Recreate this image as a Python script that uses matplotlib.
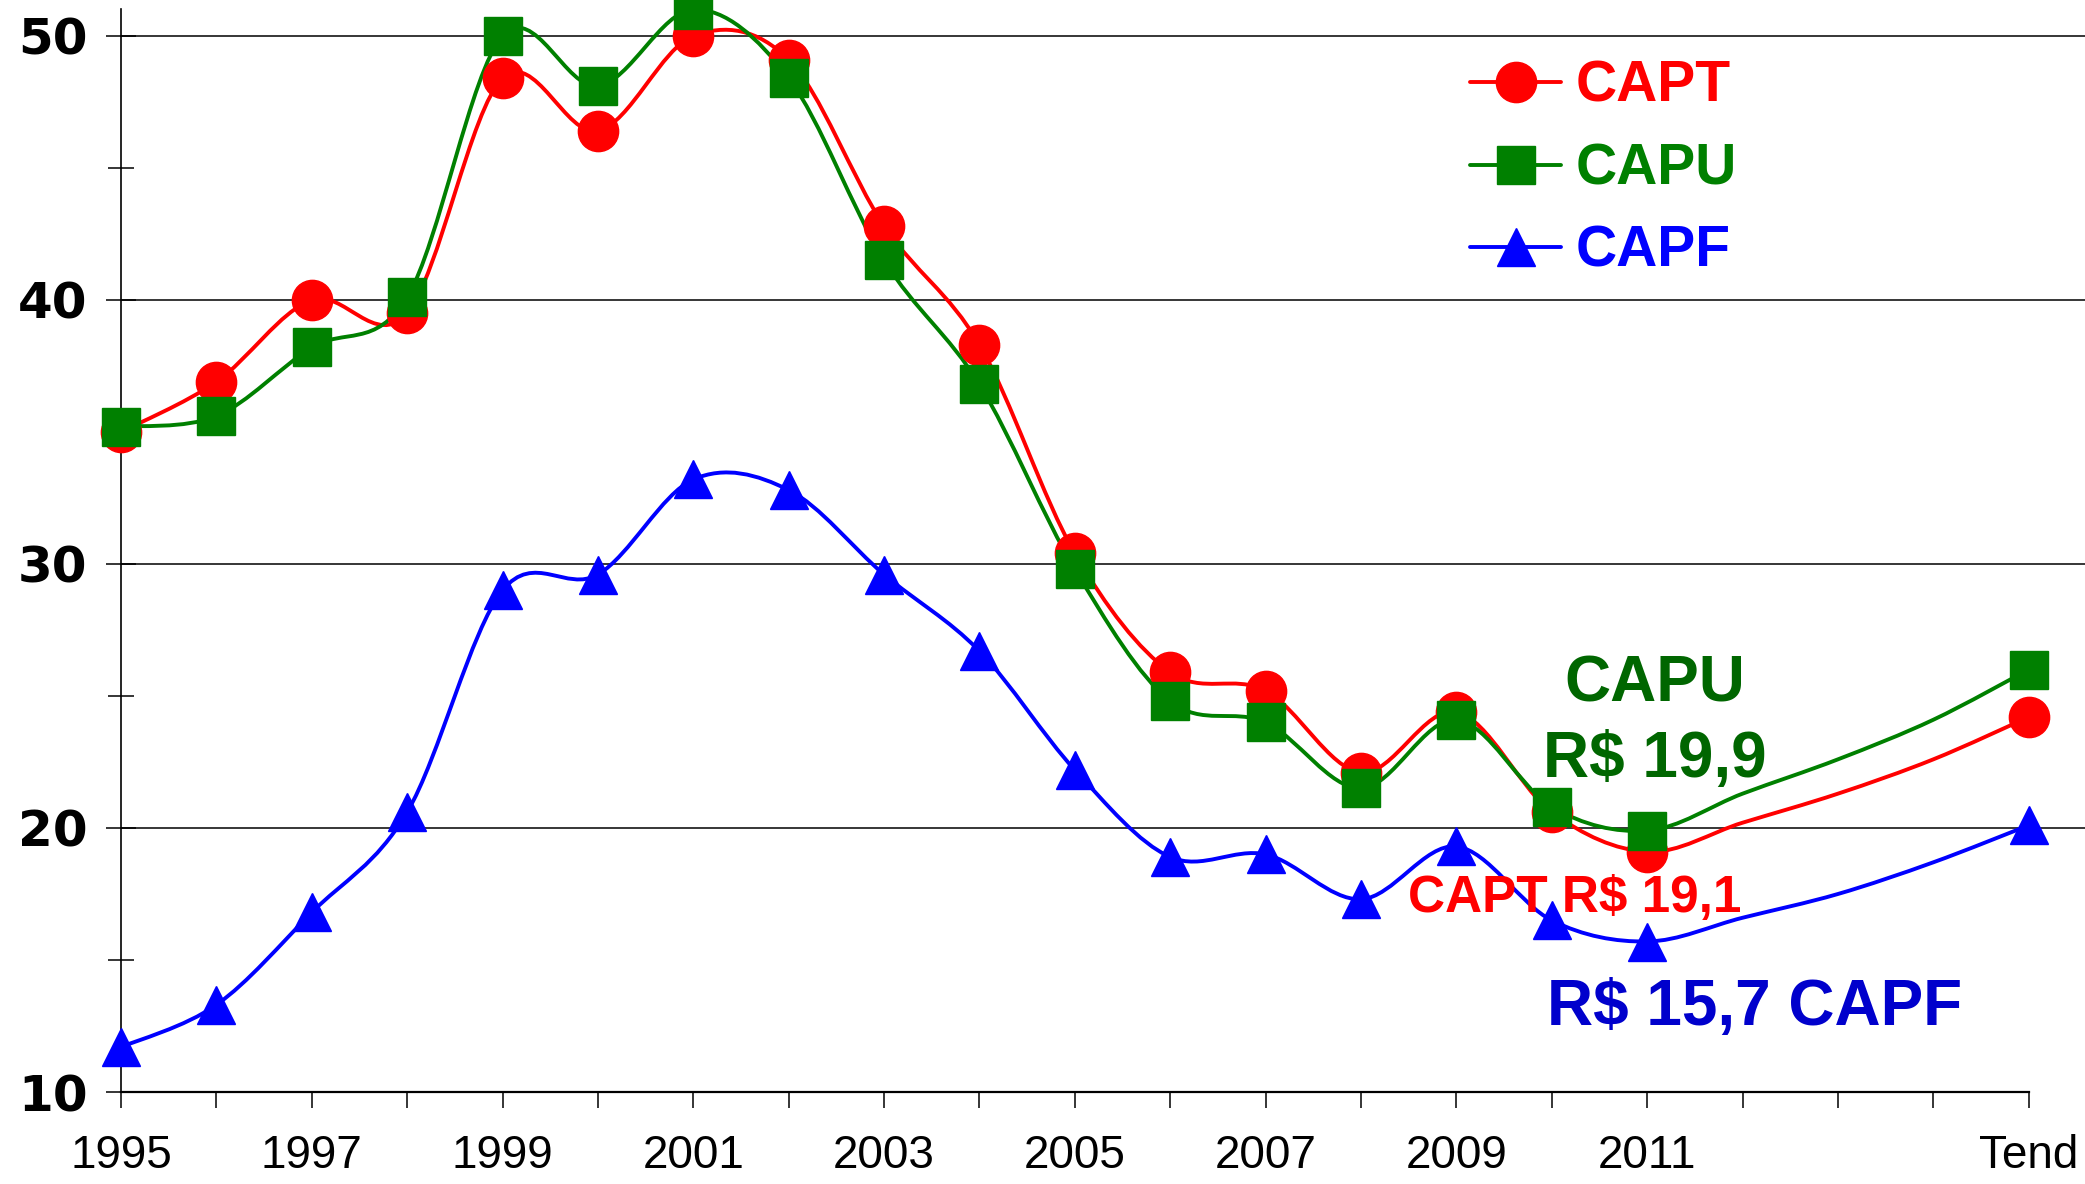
import matplotlib
matplotlib.use("Agg")
import matplotlib.pyplot as plt
import numpy as np
from matplotlib.path import Path
from matplotlib.patches import PathPatch
from matplotlib.lines import Line2D
from matplotlib.ticker import MultipleLocator

plt.rcParams['font.family'] = ['Liberation Sans', 'DejaVu Sans']

# --- DATA ---
periods = [str(y) for y in range(1995, 2015)] + ['Tend']
shown_labels = ['1995', '1997', '1999', '2001', '2003', '2005', '2007', '2009', '2011', 'Tend']
marked = [str(y) for y in range(1995, 2012)] + ['Tend']
y_grid = [20, 30, 40, 50]

capt = [35.0, 36.9, 40.0, 39.5, 48.4, 46.4, 50.0, 49.1, 42.8, 38.3, 30.4,
        25.9, 25.2, 22.1, 24.4, 20.6, 19.1, 20.2, 21.3, 22.6, 24.2]
capu = [35.2, 35.6, 38.2, 40.1, 50.0, 48.1, 51.0, 48.4, 41.5, 36.8, 29.8,
        24.8, 24.0, 21.5, 24.1, 20.8, 19.9, 21.3, 22.6, 24.1, 26.0]
capf = [11.7, 13.3, 16.8, 20.6, 29.0, 29.6, 33.2, 32.8, 29.6, 26.7, 22.2,
        18.9, 19.0, 17.3, 19.3, 16.5, 15.7, 16.6, 17.5, 18.7, 20.1]

series = [
    ('CAPT', capt, '#FF0000', 'o', 29),
    ('CAPU', capu, '#008000', 's', 27),
    ('CAPF', capf, '#0000FF', '^', 28),
]


def smooth_path(xs, ys):
    # Excel-style smoothed line: cubic Bezier through every point
    pts = np.column_stack([xs, ys]).astype(float)
    n = len(pts)
    verts = [pts[0]]
    codes = [Path.MOVETO]
    for i in range(n - 1):
        p0 = pts[i - 1] if i > 0 else pts[i]
        p1 = pts[i]
        p2 = pts[i + 1]
        p3 = pts[i + 2] if i + 2 < n else pts[i + 1]
        c1 = p1 + (p2 - p0) / 6.0
        c2 = p2 - (p3 - p1) / 6.0
        verts += [c1, c2, p2]
        codes += [Path.CURVE4] * 3
    return Path(verts, codes)


fig = plt.figure(figsize=(20.85, 11.84), dpi=100)
ax = fig.add_axes([0.05803, 0.0777, 0.94197, 0.9147])

x = np.arange(len(periods))
mark_idx = [periods.index(p) for p in marked]

handles = []
for name, vals, color, mk, ms in series:
    patch = PathPatch(smooth_path(x, vals), facecolor='none', edgecolor=color,
                      lw=2.8, capstyle='round', joinstyle='round', zorder=3)
    ax.add_patch(patch)
    ax.plot(x[mark_idx], np.array(vals)[mark_idx], ls='none', marker=mk,
            ms=ms, color=color, mec=color, clip_on=False, zorder=4)
    handles.append(Line2D([], [], color=color, lw=2.8, marker=mk, ms=ms,
                          mec=color, solid_capstyle='round'))

ax.set_xlim(0, 20.59)
ax.set_ylim(10, 51.02)

ax.yaxis.set_major_locator(MultipleLocator(10))
ax.yaxis.set_minor_locator(MultipleLocator(5))
for g in y_grid:
    ax.axhline(g, color='black', lw=1.1, zorder=1)

ax.set_xticks(x)
ax.set_xticklabels([p if p in shown_labels else '' for p in periods])

for s in ['top', 'right']:
    ax.spines[s].set_visible(False)
ax.spines['bottom'].set_bounds(0, 20)
ax.spines['bottom'].set_linewidth(1.6)
ax.spines['left'].set_linewidth(1.2)

ax.tick_params(axis='x', direction='out', length=11.5, width=1.1,
               labelsize=33, pad=19)
ax.tick_params(axis='y', which='major', direction='inout', length=22,
               width=1.1, labelsize=36, pad=13)
ax.tick_params(axis='y', which='minor', direction='inout', length=19, width=1.1)
for lab in ax.get_yticklabels():
    lab.set_fontfamily('DejaVu Sans')
    lab.set_fontweight('bold')

leg = ax.legend(handles, [s[0] for s in series], loc='upper left',
                bbox_to_anchor=(1470 / 2085, 1 - 60 / 1184),
                bbox_transform=fig.transFigure, frameon=False,
                prop={'size': 41, 'weight': 'bold'}, handlelength=1.6,
                handletextpad=0.25, labelspacing=0.5, borderpad=0,
                borderaxespad=0)
for txt, s in zip(leg.get_texts(), series):
    txt.set_color(s[2])

# annotations
fig.text(1655 / 2085, 1 - 685 / 1184, 'CAPU', color='#006600', fontsize=46,
         fontweight='bold', ha='center', va='center')
fig.text(1655 / 2085, 1 - 760 / 1184, 'R$ 19,9', color='#006600', fontsize=46,
         fontweight='bold', ha='center', va='center')
fig.text(1575 / 2085, 1 - 899 / 1184, 'CAPT R$ 19,1', color='#FF0000',
         fontsize=37, fontweight='bold', ha='center', va='center')
fig.text(1755 / 2085, 1 - 1008 / 1184, 'R$ 15,7 CAPF', color='#0000CC',
         fontsize=46, fontweight='bold', ha='center', va='center')

fig.savefig('out.png', dpi=100)
